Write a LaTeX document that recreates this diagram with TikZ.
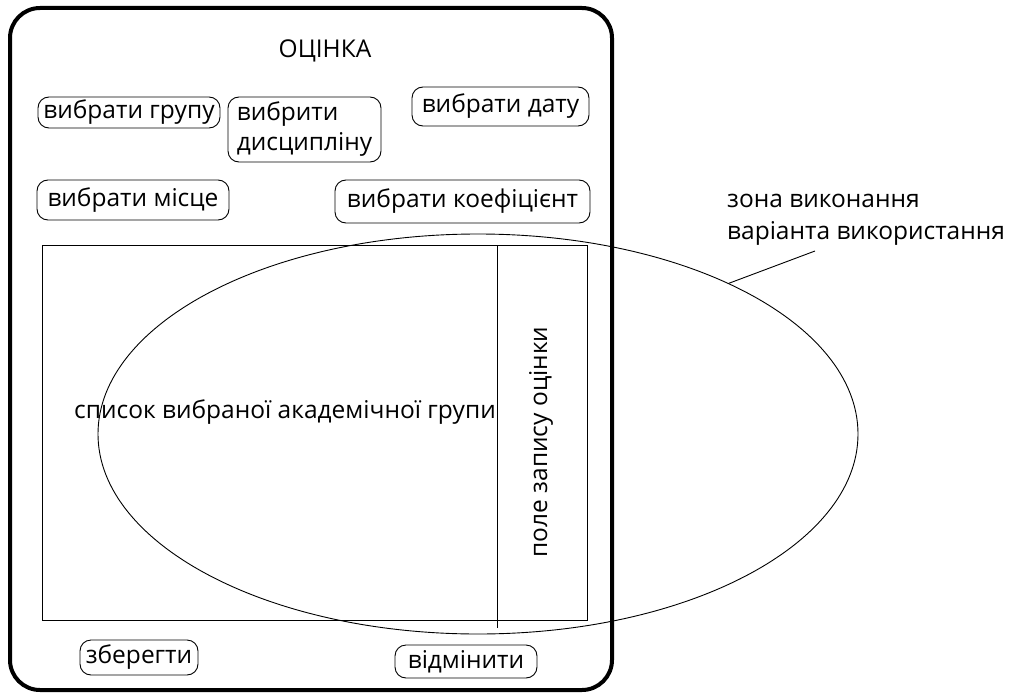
\documentclass[tikz,border=0pt]{standalone}
\usepackage{fontspec}
\setmainfont{Open Sans}
\usetikzlibrary{shapes.geometric}
\begin{document}
\begin{tikzpicture}[x=1pt,y=-1pt,
  btn/.style={draw, rounded corners=11pt, line width=0.9pt, inner sep=0pt,
    font=\fontsize{24.5}{30}\selectfont},
  lbl/.style={font=\fontsize{24.5}{32}\selectfont, inner sep=0pt}]
\useasboundingbox (0,0) rectangle (1009,693);
% outer window frame
\node[draw, line width=4pt, rounded corners=30pt, minimum width=602pt,
  minimum height=682pt, inner sep=0pt] (frame) at (311,349) {};
\node[lbl] (title) at (325,51) {ОЦІНКА};
% selection buttons
\node[btn, minimum width=182pt, minimum height=31pt] (grp) at (129,112.5) {вибрати групу};
\node[btn, minimum width=153pt, minimum height=65pt, align=left] (disc) at (304.5,129.5) {вибрити\\дисципліну};
\node[btn, minimum width=177pt, minimum height=39pt] (date) at (500.5,106.5) {вибрати дату};
\node[btn, minimum width=192pt, minimum height=40pt] (place) at (133,200) {вибрати місце};
\node[btn, minimum width=255pt, minimum height=43pt] (coef) at (462.5,201.5) {вибрати коефіцієнт};
% group list area with grade column
\node[draw, line width=0.9pt, minimum width=545pt, minimum height=375pt, inner sep=0pt] (list) at (314.5,432.5) {};
\draw[line width=0.9pt] (497,245) -- (497,628);
\node[lbl] (listtext) at (285,412) {список вибраної академічної групи};
\node[lbl, rotate=90] (gradetext) at (541,442) {поле запису оцінки};
% execution zone of the use case
\node[draw, ellipse, line width=0.9pt, minimum width=760pt, minimum height=400pt, inner sep=0pt] (zone) at (478,434) {};
\node[lbl, align=left, anchor=west] (zonelabel) at (727,220) {зона виконання\\варіанта використання};
\coordinate (zonetip) at (815,251);
\draw[line width=0.9pt] (zone.31) -- (zonetip);
% action buttons
\node[btn, minimum width=118pt, minimum height=35pt] (save) at (139,657.5) {зберегти};
\node[btn, minimum width=142pt, minimum height=33pt] (cancel) at (466,661.5) {відмінити};
\end{tikzpicture}
\end{document}
